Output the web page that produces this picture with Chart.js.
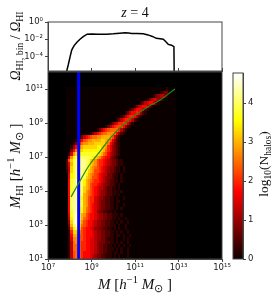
<!DOCTYPE html>
<html>
<head>
<meta charset="utf-8">
<script src="https://cdn.jsdelivr.net/npm/chart.js@4/dist/chart.umd.min.js"></script>
<style>
  html, body { margin: 0; padding: 0; background: #fff; }
  #wrap { position: relative; width: 274px; height: 299px; overflow: hidden; }
  canvas { position: absolute; left: 0; top: 0; }
</style>
</head>
<body>
<div id="wrap">
  <canvas id="top-panel" width="274" height="299"></canvas>
  <canvas id="main-panel" width="274" height="299"></canvas>
  <canvas id="color-bar" width="274" height="299"></canvas>
</div>
<script>
// Tick positions (log10)
const massTicks = [7, 9, 11, 13, 15];
const hiTicks = [1, 3, 5, 7, 9, 11];
const fracTicks = [0, -2, -4];
const barTicks = [0, 1, 2, 3, 4];

// Top panel: Omega_HI,bin / Omega_HI against halo mass (log10)
const fracLogM = [7.86, 7.93, 8.02, 8.09, 8.2, 8.33, 8.47, 8.62, 8.8, 9.0, 9.3, 9.7, 10.0, 10.3, 10.54, 10.7, 10.85, 11.1, 11.38, 11.6, 11.8, 11.98, 12.15, 12.3, 12.42, 12.53, 12.68, 12.79, 12.8];
const fracLog = [-5.7, -5.0, -4.0, -3.26, -2.75, -2.35, -2.0, -1.7, -1.42, -1.4, -1.42, -1.43, -1.38, -1.3, -1.24, -1.28, -1.34, -1.35, -1.38, -1.5, -1.68, -1.9, -1.95, -2.0, -2.3, -2.6, -2.7, -2.87, -5.7];

// Green fit and blue mass limit (log10)
const fitLogM = [8.06, 8.43, 8.9, 9.4, 9.85, 10.3, 10.72, 11.0, 11.6, 12.15, 12.84];
const fitLogHI = [4.65, 5.5, 6.53, 7.35, 8.1, 8.7, 9.18, 9.45, 9.95, 10.35, 11.0];
const limitLogM = 8.41;

// Halo counts. One string per log10(M_HI) row, one char per log10(M) column.
// Each char is log10(N_halos) in units of 0.25 (0-9 then a-j).
const firstLogHI = 1.0, stepLogHI = 0.2;
const firstLogM = 7.8, stepLogM = 0.1;
const countRows = [
  "00159aaa877765433221101101010010",
  "00159aaa877765433221110101000100",
  "00159aaa877766543322110110100100",
  "0015aaaa887766543322111010100100",
  "0015aaaa887766543322110101010010",
  "0015abaa887766543332211010100100",
  "0016bbba987766544332111010010100",
  "0017ccba987776544332211011010010",
  "0018dddb987776544332211010100100",
  "002aefed98776544332211010100100",
  "003cghgea9877654433221110100100",
  "004dhihfb9877654433221101010010",
  "005ehihgca987765443322110100100",
  "006fhihgcb98776544332211101000",
  "007fhhhgeca987643322110100",
  "007ghhhgeca987654332211010100",
  "007ghhhhfcb987654332211010010",
  "007ghhhhfcb988654332211011000",
  "007ghhhhecb988654432211010010",
  "007fhhhhgcba98765443221101000",
  "007fhhhhgdba98765443221110100",
  "007fghhhgdcb98765543221101000",
  "007fghhhgecb98876544322101000",
  "007fghhhgecba9887654322110100",
  "006efghhhgdcb9987654332110100",
  "006efghhhgecba987655332110100",
  "015dfghhhgfdcb998765433211010",
  "025dfghhhhgecba98765433211010",
  "026cfghhhhgfdcb98876543321100",
  "029dfghhhhgfdcb98876543321100",
  "005befggggggfedcb98764321",
  "0016bdeefffffffedca9754321",
  "00037acddeeeeeeeedca864321",
  "000147abcddddddeedcb864321",
  "00001368abbcccdddddca75321",
  "0000012579abbccccddcb96421",
  "0000000135789aabbccccb96310",
  "000000000000135789aabbba7421",
  "000000000000000135789aaaa8531",
  "0000000000000000000135789997421",
  "000000000000000000000135688986310",
  "0000000000000000000000001357887521",
  "000000000000000000000000001357887521",
  "00000000000000000000000000001357787421",
  "000000000000000000000000000000135777521",
  "00000000000000000000000000000000135677521",
  "00000000000000000000000000000000000135677521",
  "0000000000000000000000000000000000000013566421",
  "000000000000000000000000000000000000000001345531",
  "00000000000000000000000000000000000000000000123310",
  "00000000000000000000000000000000000000000000000100"
];
const countColumns = 51;
const barMax = 4.77;

// matplotlib "hot" colormap on 0..barMax
function hotColor(v) {
  const t = Math.max(0, Math.min(1, v / barMax));
  const r = Math.min(1, 0.0416 + t * 0.9584 / 0.365);
  const g = Math.max(0, Math.min(1, (t - 0.365) / 0.381));
  const b = Math.max(0, Math.min(1, (t - 0.746) / 0.254));
  return `rgb(${Math.round(r * 255)},${Math.round(g * 255)},${Math.round(b * 255)})`;
}

// Small filled canvases used as point styles, so cells are drawn by Chart.js
const swatches = {};
function swatch(v, w, h) {
  const key = v + "/" + w + "/" + h;
  if (!swatches[key]) {
    const c = document.createElement("canvas");
    c.width = w;
    c.height = h;
    const g = c.getContext("2d");
    g.fillStyle = hotColor(v);
    g.fillRect(0, 0, w, h);
    swatches[key] = c;
  }
  return swatches[key];
}

function buildCells() {
  const cells = [];
  countRows.forEach((row, r) => {
    for (let c = 1; c < countColumns; c++) {
      const ch = row[c] || "0";
      cells.push({
        x: Math.pow(10, firstLogM + c * stepLogM),
        y: Math.pow(10, firstLogHI + r * stepLogHI),
        v: parseInt(ch, 20) * 0.25,
      });
    }
  });
  return cells;
}

function buildBarCells() {
  const cells = [];
  for (let v = 0; v <= barMax; v += 0.02) cells.push({ x: 0, y: v, v: v });
  return cells;
}

const toLogPoints = (xs, ys) => xs.map((x, i) => ({ x: Math.pow(10, x), y: Math.pow(10, ys[i]) }));

const superDigits = { "0": "⁰", "1": "¹", "2": "²", "3": "³", "4": "⁴", "5": "⁵", "6": "⁶", "7": "⁷", "8": "⁸", "9": "⁹", "-": "⁻" };
const powerLabel = (v) => "10" + String(Math.round(Math.log10(v))).split("").map((d) => superDigits[d]).join("");

const SERIF = '"Liberation Serif", serif';
const tickFont = { family: '"DejaVu Sans", sans-serif', size: 8.5 };
const frameColor = "#444";

// Mixed text on the canvas: [text, kind] with kind i, r, sub, subr, sup
function drawMath(ctx, x, y, angle, size, parts) {
  const fontFor = (kind) => {
    if (kind === "i") return `italic ${size}px ${SERIF}`;
    if (kind === "r") return `${size}px ${SERIF}`;
    if (kind === "sub") return `italic ${size * 0.7}px ${SERIF}`;
    return `${size * 0.7}px ${SERIF}`;
  };
  ctx.save();
  ctx.fillStyle = "#111";
  ctx.translate(x, y);
  ctx.rotate(angle);
  ctx.textBaseline = "alphabetic";
  ctx.textAlign = "left";
  let total = 0;
  parts.forEach(([t, k]) => { ctx.font = fontFor(k); total += ctx.measureText(t).width; });
  let pos = -total / 2;
  parts.forEach(([t, k]) => {
    ctx.font = fontFor(k);
    let dy = 0;
    if (k === "sub" || k === "subr") dy = size * 0.22;
    if (k === "sup") dy = -size * 0.4;
    ctx.fillText(t, pos, dy);
    pos += ctx.measureText(t).width;
  });
  ctx.restore();
}

function framePlugin(fill) {
  return {
    id: "frame",
    beforeDatasetsDraw(chart) {
      if (!fill) return;
      const a = chart.chartArea;
      chart.ctx.fillStyle = fill;
      chart.ctx.fillRect(a.left, a.top, a.width, a.height);
    },
    afterDraw(chart) {
      const a = chart.chartArea;
      chart.ctx.strokeStyle = frameColor;
      chart.ctx.lineWidth = 1;
      chart.ctx.strokeRect(a.left, a.top, a.width, a.height);
    },
  };
}

const setTicks = (list) => (scale) => { scale.ticks = list.map((v) => ({ value: v })); };

const baseOptions = {
  responsive: false,
  animation: false,
  events: [],
  plugins: { legend: { display: false }, tooltip: { enabled: false } },
};

// Top panel
new Chart(document.getElementById("top-panel"), {
  type: "scatter",
  data: {
    datasets: [{
      data: toLogPoints(fracLogM, fracLog),
      showLine: true,
      borderColor: "#000",
      borderWidth: 1.5,
      pointRadius: 0,
      tension: 0,
    }],
  },
  options: {
    ...baseOptions,
    layout: { padding: { left: 0, top: 22, right: 52, bottom: 0 } },
    scales: {
      x: {
        type: "logarithmic",
        min: 1e7,
        max: 1e15,
        afterFit: (s) => { s.height = 228; },
        afterBuildTicks: setTicks(massTicks.map((p) => Math.pow(10, p))),
        grid: { drawOnChartArea: false, tickLength: -3, color: frameColor },
        border: { color: frameColor },
        ticks: { display: false },
      },
      y: {
        type: "logarithmic",
        min: Math.pow(10, -5.7),
        max: 1,
        afterFit: (s) => { s.width = 48; },
        afterBuildTicks: setTicks(fracTicks.map((p) => Math.pow(10, p))),
        grid: { drawOnChartArea: false, tickLength: 3, color: frameColor },
        border: { color: frameColor },
        ticks: { callback: powerLabel, font: tickFont, color: "#222", padding: 2 },
      },
    },
  },
  plugins: [framePlugin(null), {
    id: "topText",
    afterDraw(chart) {
      const ctx = chart.ctx;
      drawMath(ctx, 135, 17, 0, 14, [["z", "i"], [" = 4", "r"]]);
      drawMath(ctx, 20, 46, -Math.PI / 2, 14, [["Ω", "i"], ["HI, bin", "subr"], [" / ", "r"], ["Ω", "i"], ["HI", "subr"]]);
    },
  }],
});

// Main panel: halo counts with fit and mass limit
new Chart(document.getElementById("main-panel"), {
  type: "scatter",
  data: {
    datasets: [
      {
        data: toLogPoints(fitLogM, fitLogHI),
        showLine: true,
        borderColor: "#1a8c1a",
        borderWidth: 1.2,
        pointRadius: 0,
        tension: 0.4,
        order: 1,
      },
      {
        data: toLogPoints([limitLogM, limitLogM], [1, 12]),
        showLine: true,
        borderColor: "#0000ff",
        borderWidth: 3,
        pointRadius: 0,
        order: 2,
      },
      {
        data: buildCells(),
        showLine: false,
        pointStyle: (c) => swatch(c.raw ? c.raw.v : 0, 3, 4),
        pointRadius: 2,
        order: 3,
      },
    ],
  },
  options: {
    ...baseOptions,
    layout: { padding: { left: 0, top: 72, right: 52, bottom: 0 } },
    scales: {
      x: {
        type: "logarithmic",
        min: 1e7,
        max: 1e15,
        afterFit: (s) => { s.height = 40; },
        afterBuildTicks: setTicks(massTicks.map((p) => Math.pow(10, p))),
        grid: { drawOnChartArea: false, tickLength: 3, color: frameColor },
        border: { color: frameColor },
        ticks: { callback: powerLabel, font: tickFont, color: "#222", maxRotation: 0, autoSkip: false, padding: 1 },
      },
      y: {
        type: "logarithmic",
        min: 10,
        max: 1e12,
        afterFit: (s) => { s.width = 48; },
        afterBuildTicks: setTicks(hiTicks.map((p) => Math.pow(10, p))),
        grid: { drawOnChartArea: false, tickLength: 3, color: frameColor },
        border: { color: frameColor },
        ticks: { callback: powerLabel, font: tickFont, color: "#222", autoSkip: false, padding: 2 },
      },
    },
  },
  plugins: [framePlugin("#000"), {
    id: "mainText",
    afterDraw(chart) {
      const ctx = chart.ctx;
      drawMath(ctx, 135, 289, 0, 15, [["M", "i"], [" [", "r"], ["h", "i"], ["−1", "sup"], [" M", "i"], ["⊙", "subr"], [" ]", "r"]]);
      drawMath(ctx, 20, 166, -Math.PI / 2, 15, [["M", "i"], ["HI", "subr"], [" [", "r"], ["h", "i"], ["−1", "sup"], [" M", "i"], ["⊙", "subr"], [" ]", "r"]]);
    },
  }],
});

// Colour bar
new Chart(document.getElementById("color-bar"), {
  type: "scatter",
  data: {
    datasets: [{
      data: buildBarCells(),
      pointStyle: (c) => swatch(c.raw ? c.raw.v : 0, 12, 2),
      pointRadius: 2,
    }],
  },
  options: {
    ...baseOptions,
    layout: { padding: { left: 233, top: 73, right: 0, bottom: 40 } },
    scales: {
      x: { type: "linear", min: -1, max: 1, display: false },
      y: {
        type: "linear",
        position: "right",
        min: 0,
        max: barMax,
        afterFit: (s) => { s.width = 31; },
        afterBuildTicks: setTicks(barTicks),
        grid: { drawOnChartArea: false, tickLength: 3, color: frameColor },
        border: { color: frameColor },
        ticks: { font: tickFont, color: "#222", padding: 2 },
      },
    },
  },
  plugins: [framePlugin(null), {
    id: "barText",
    afterDraw(chart) {
      drawMath(chart.ctx, 268, 164, -Math.PI / 2, 13.5, [["log", "r"], ["10", "subr"], ["(N", "r"], ["halos", "subr"], [")", "r"]]);
    },
  }],
});
</script>
</body>
</html>
